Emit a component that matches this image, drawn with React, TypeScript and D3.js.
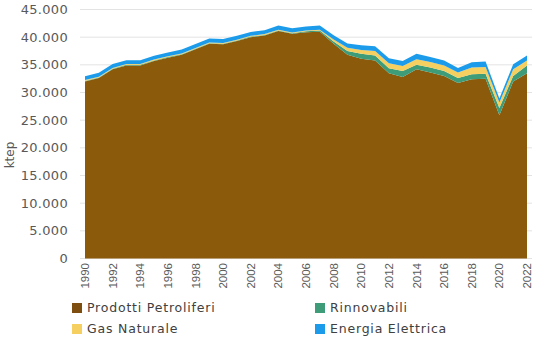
import React from "react";
import * as d3 from "d3";

const years = d3.range(1990, 2023);
const petroliferi = [32000, 32600, 34200, 34900, 34900, 35700, 36300, 36800, 37800, 38800, 38700, 39300, 40000, 40300, 41100, 40600, 40900, 41000, 38800, 36800, 36100, 35800, 33500, 32800, 34200, 33600, 33000, 31700, 32400, 32500, 25900, 32000, 33500];
const rinnovabili = [100, 100, 100, 100, 100, 100, 100, 100, 100, 100, 100, 100, 100, 100, 100, 100, 150, 200, 400, 700, 900, 900, 900, 1100, 800, 900, 900, 900, 900, 900, 1300, 1000, 1400];
const gasNaturale = [150, 150, 150, 150, 150, 150, 150, 150, 150, 150, 150, 150, 150, 150, 150, 150, 150, 150, 400, 600, 700, 800, 900, 900, 1000, 1000, 1000, 1000, 1200, 1200, 1000, 1200, 900];
const energiaElettrica = [700, 700, 700, 700, 700, 700, 700, 700, 700, 700, 700, 700, 700, 700, 750, 750, 750, 750, 750, 750, 850, 850, 900, 900, 1000, 900, 900, 850, 950, 1000, 700, 900, 900];
const yTicks = [0, 5000, 10000, 15000, 20000, 25000, 30000, 35000, 40000, 45000];
const xTicks = d3.range(1990, 2023, 2);

const seriesNames = ["Prodotti Petroliferi", "Rinnovabili", "Gas Naturale", "Energia Elettrica"];
const colors = ["#8B5A0A", "#3E9C78", "#F5CF5F", "#1B9BEA"];
const legendColors = ["#7E4E10", "#3E9C78", "#F5CF5F", "#1B9BEA"];

export default function App() {
  const W = 551, H = 360;
  const x = d3.scaleLinear().domain([1990, 2022]).range([85, 527]);
  const y = d3.scaleLinear().domain([0, 45000]).range([258.5, 9.5]);
  const rows = years.map((yr, i) => ({
    year: yr,
    s0: petroliferi[i],
    s1: rinnovabili[i],
    s2: gasNaturale[i],
    s3: energiaElettrica[i],
  }));
  const stack = d3.stack<any>().keys(["s0", "s1", "s2", "s3"])(rows);
  const area = d3
    .area<any>()
    .x((d) => x(d.data.year))
    .y0((d) => y(d[0]))
    .y1((d) => y(d[1]));
  const fmt = (v: number) => (v === 0 ? "0" : d3.format(",")(v).replace(/,/g, "."));
  const legend = [
    { i: 0, lx: 72, ly: 308 },
    { i: 1, lx: 315, ly: 308 },
    { i: 2, lx: 72, ly: 329 },
    { i: 3, lx: 315, ly: 329 },
  ];
  return (
    <svg width={W} height={H} style={{ position: "absolute", left: 0, top: 0, background: "#fff" }}>
      {yTicks.map((t) => (
        <g key={t}>
          <line x1={80} x2={532} y1={y(t)} y2={y(t)} stroke="#E3E3E3" strokeWidth={1} />
          <text x={68} y={y(t)} dy="0.35em" textAnchor="end" fontFamily="DejaVu Sans" fontSize={13} letterSpacing={0.3} fill="#595959">
            {fmt(t)}
          </text>
        </g>
      ))}
      {stack.map((s, i) => (
        <path key={i} d={area(s) || ""} fill={colors[i]} />
      ))}
      {xTicks.map((t) => (
        <text
          key={t}
          transform={`translate(${x(t)},263) rotate(-90)`}
          dy="0.35em"
          textAnchor="end"
          fontFamily="Liberation Sans"
          fontSize={11.5}
          fill="#595959"
        >
          {t}
        </text>
      ))}
      <text transform="translate(10,155) rotate(-90)" dy="0.35em" textAnchor="middle" fontFamily="DejaVu Sans" fontSize={12} fill="#595959">
        ktep
      </text>
      {legend.map((l) => (
        <g key={l.i}>
          <rect x={l.lx} y={l.ly - 5} width={10} height={10} fill={legendColors[l.i]} />
          <text x={l.lx + 15} y={l.ly} dy="0.35em" fontFamily="DejaVu Sans" fontSize={12.5} letterSpacing={0.8} fill="#404040">
            {seriesNames[l.i]}
          </text>
        </g>
      ))}
    </svg>
  );
}
